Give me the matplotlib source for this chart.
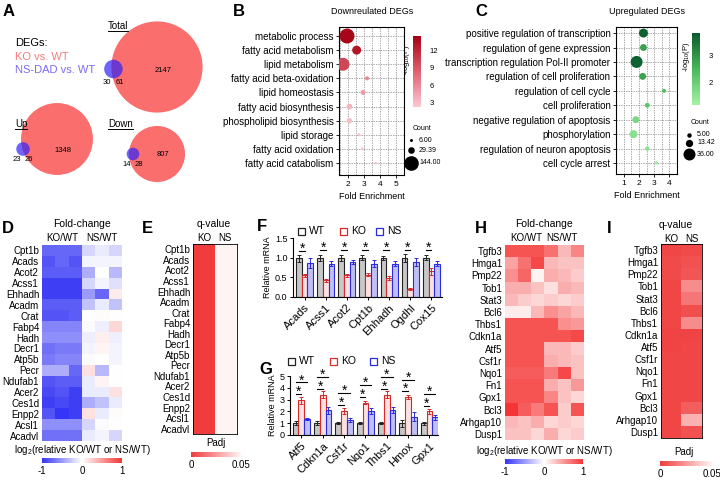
import numpy as np
import matplotlib
matplotlib.use('Agg')
import matplotlib.pyplot as plt
from matplotlib.colors import LinearSegmentedColormap, Normalize
from matplotlib.patches import Circle, Rectangle
from matplotlib.cm import ScalarMappable

plt.rcParams['font.family'] = ['Liberation Sans', 'DejaVu Sans']
plt.rcParams['mathtext.default'] = 'regular'
plt.rcParams['axes.linewidth'] = 0.8

# ---------------- data ----------------
# A: Venn counts
venn_names = ['Total', 'Up', 'Down']
ko_only = [2147, 1348, 807]
overlap = [61, 26, 28]
ns_only = [30, 23, 14]

# B: downregulated GO terms
down_terms = ['metabolic process', 'fatty acid metabolism', 'lipid metabolism',
              'fatty acid beta-oxidation', 'lipid homeostasis', 'fatty acid biosynthesis',
              'phospholipid biosynthesis', 'lipid storage', 'fatty acid oxidation',
              'fatty acid catabolism']
down_fe = [1.95, 2.55, 1.7, 3.2, 2.95, 2.1, 2.1, 2.7, 2.9, 3.75]
down_count = [150, 54, 113, 11, 17, 22, 20, 6, 6, 5]
down_logp = [14.0, 13.0, 10.0, 6.0, 5.0, 3.5, 3.0, 3.0, 2.6, 2.5]

# C: upregulated GO terms
up_terms = ['positive regulation of transcription', 'regulation of gene expression',
            'transcription regulation Pol-II promoter', 'regulation of cell proliferation',
            'regulation of cell cycle', 'cell proliferation',
            'negative regulation of apoptosis', 'phosphorylation',
            'regulation of neuron apoptosis', 'cell cycle arrest']
up_fe = [2.3, 2.3, 1.85, 2.25, 3.65, 2.55, 1.8, 1.65, 2.55, 3.15]
up_count = [20, 12, 36, 12, 4, 6, 12, 16, 5, 3]
up_logp = [3.7, 2.8, 3.7, 2.8, 2.4, 2.2, 1.8, 1.6, 1.6, 1.3]

# D / E: downregulated genes
d_genes = ['Cpt1b', 'Acads', 'Acot2', 'Acss1', 'Ehhadh', 'Acadm', 'Crat', 'Fabp4', 'Hadh',
           'Decr1', 'Atp5b', 'Pecr', 'Ndufab1', 'Acer2', 'Ces1d', 'Enpp2', 'Acsl1', 'Acadvl']
d_fc = [[-0.75, -0.75, -0.75, -0.2, -0.1, -0.2],
        [-0.85, -0.75, -0.85, -0.05, -0.05, -0.05],
        [-0.8, -0.8, -0.8, -0.4, 0.0, -0.35],
        [-0.95, -0.95, -0.95, -0.2, -0.05, -0.15],
        [-0.95, -0.95, -0.95, -0.5, -0.75, 0.1],
        [-0.8, -0.8, -0.8, -0.3, -0.1, -0.3],
        [-0.85, -0.85, -0.8, 0.0, 0.02, 0.0],
        [-0.6, -0.6, -0.6, -0.02, -0.08, 0.2],
        [-0.55, -0.55, -0.55, -0.08, 0.08, -0.08],
        [-0.7, -0.65, -0.65, -0.05, 0.05, -0.05],
        [-0.65, -0.6, -0.6, -0.02, 0.0, -0.05],
        [-0.4, -0.4, -0.75, 0.15, -0.35, 0.0],
        [-0.85, -0.8, -0.8, -0.1, 0.05, 0.0],
        [-0.9, -0.85, -0.95, -0.1, -0.1, 0.15],
        [-0.95, -0.9, -0.95, -0.4, -0.3, -0.1],
        [-0.85, -1.0, -0.95, 0.15, -0.1, 0.02],
        [-0.55, -0.55, -0.55, -0.2, -0.02, 0.0],
        [-0.7, -0.7, -0.7, -0.1, -0.05, -0.2]]
d_q_ko = [0.0] * 18
d_q_ns = [1.0] * 18

# F: qPCR downregulated
f_genes = ['Acads', 'Acss1', 'Acot2', 'Cpt1b', 'Ehhadh', 'Ogdhl', 'Cox15']
f_wt = [0.98, 1.0, 1.0, 1.0, 1.0, 1.0, 1.0]
f_ko = [0.55, 0.42, 0.55, 0.57, 0.48, 0.2, 0.65]
f_ns = [0.87, 0.85, 0.88, 0.85, 0.85, 0.88, 0.85]
f_wt_sd = [0.1, 0.08, 0.08, 0.07, 0.05, 0.1, 0.07]
f_ko_sd = [0.03, 0.04, 0.03, 0.03, 0.06, 0.02, 0.1]
f_ns_sd = [0.12, 0.07, 0.05, 0.08, 0.07, 0.1, 0.06]

# G: qPCR upregulated
g_genes = ['Atf5', 'Cdkn1a', 'Csf1r', 'Nqo1', 'Thbs1', 'Hmox', 'Gpx1']
g_wt = [1.0, 1.0, 1.0, 1.0, 1.0, 1.0, 1.0]
g_ko = [2.95, 3.4, 2.05, 2.75, 3.4, 3.2, 2.0]
g_ns = [1.35, 2.1, 1.25, 2.0, 2.1, 1.55, 1.5]
g_wt_sd = [0.15, 0.15, 0.1, 0.1, 0.1, 0.3, 0.12]
g_ko_sd = [0.3, 0.3, 0.25, 0.15, 0.3, 0.15, 0.2]
g_ns_sd = [0.1, 0.3, 0.15, 0.25, 0.25, 0.4, 0.2]

# H / I: upregulated genes
h_genes = ['Tgfb3', 'Hmga1', 'Pmp22', 'Tob1', 'Stat3', 'Bcl6', 'Thbs1', 'Cdkn1a', 'Atf5',
           'Csf1r', 'Nqo1', 'Fn1', 'Gpx1', 'Bcl3', 'Arhgap10', 'Dusp1']
h_fc = [[0.85, 0.85, 0.85, 0.7, 0.35, 0.6],
        [0.45, 0.7, 0.9, 0.35, 0.3, 0.3],
        [0.55, 0.75, 0.05, 0.4, 0.35, 0.25],
        [0.4, 0.4, 0.3, 0.15, 0.4, 0.35],
        [0.35, 0.25, 0.2, 0.25, 0.2, 0.25],
        [0.1, 0.1, 0.35, 0.55, 0.45, 0.35],
        [0.85, 0.85, 0.85, 0.85, 0.55, 0.5],
        [0.85, 0.85, 0.85, 0.85, 0.85, 0.9],
        [0.85, 0.85, 0.85, 0.35, 0.35, 0.25],
        [0.85, 0.85, 0.85, 0.4, 0.35, 0.3],
        [0.8, 0.8, 0.8, 0.65, 0.9, 0.3],
        [0.85, 0.85, 0.85, 0.4, 0.3, 0.5],
        [0.85, 0.85, 0.85, 0.6, 0.3, 0.2],
        [1.0, 0.8, 0.65, 0.85, 0.25, 0.85],
        [0.35, 0.3, 0.4, 0.2, 0.25, 0.2],
        [0.3, 0.3, 0.2, 0.4, 0.2, 0.25]]
h_q_ko = [0.003, 0.004, 0.004, 0.003, 0.003, 0.003, 0.003, 0.002, 0.002,
          0.003, 0.003, 0.003, 0.003, 0.003, 0.003, 0.003]
h_q_ns = [0.004, 0.006, 0.007, 0.022, 0.016, 0.005, 0.022, 0.002, 0.003,
          0.003, 0.003, 0.003, 0.003, 0.009, 0.032, 0.006]

# ---------------- figure ----------------
W, H = 720, 482
fig = plt.figure(figsize=(7.2, 4.82), dpi=100)
renderer = fig.canvas.get_renderer()


def box(x0, y0, x1, y1):
    return fig.add_axes([x0 / W, 1 - y1 / H, (x1 - x0) / W, (y1 - y0) / H])


# overlay axes in pixel coordinates for texts, venn and legends
ov = fig.add_axes([0, 0, 1, 1])
ov.set_xlim(0, W)
ov.set_ylim(H, 0)
ov.axis('off')

RED_V = '#fa6e6e'
BLUE_V = '#3022f8'
fc_cmap = LinearSegmentedColormap.from_list('fc', ['#3535f5', '#ffffff', '#f53535'])
q_cmap = LinearSegmentedColormap.from_list('q', ['#f03c3c', '#fff4f4'])
red_cmap = LinearSegmentedColormap.from_list('r', ['#fbc9d2', '#e0606f', '#a30012'])
grn_cmap = LinearSegmentedColormap.from_list('g', ['#a6f2a6', '#48b85a', '#0b5a2c'])

# panel letters
for s, x, y in [('A', 3, 4), ('B', 233, 4), ('C', 475, 4), ('D', 2, 221), ('E', 142, 221),
                ('F', 257, 219), ('G', 259, 362), ('H', 475, 221), ('I', 607, 221)]:
    ov.text(x, y, s, fontsize=12, fontweight='bold', va='top', ha='left')

# ---------------- A: venn ----------------
red_c = [(157, 67), (57, 139), (157, 154)]
blue_dy = [2, 10, 0]
blue_dx = [2, 2, 4]
title_xy = [(108, 26), (15, 124), (108, 124)]
for i, name in enumerate(venn_names):
    rr = 0.97 * np.sqrt(ko_only[i] + overlap[i])
    rb = 0.97 * np.sqrt(ns_only[i] + overlap[i])
    cx, cy = red_c[i]
    bx, by = cx - rr + blue_dx[i], cy + blue_dy[i]
    ov.add_patch(Circle((cx, cy), rr, color=RED_V, lw=0))
    ov.add_patch(Circle((bx, by), rb, color=BLUE_V, alpha=0.7, lw=0))
    ov.text(cx + 6, by + 1, str(ko_only[i]), fontsize=5.5, ha='center', va='center')
    ov.text(bx - 2, by + rb + 4, str(ns_only[i]), fontsize=5.5, ha='right', va='center')
    ov.text(bx + 2, by + rb + 4, str(overlap[i]), fontsize=5.5, ha='left', va='center')
    t = ov.text(title_xy[i][0], title_xy[i][1], name, fontsize=7, ha='left', va='center')
    tw = t.get_window_extent(renderer).width
    ov.plot([title_xy[i][0], title_xy[i][0] + tw], [title_xy[i][1] + 5] * 2, color='k', lw=0.7)
ov.text(15, 43, 'DEGs:', fontsize=8, va='center')
ov.text(15, 57, 'KO vs. WT', fontsize=8, va='center', color='#f47c7c')
ov.text(15, 70, 'NS-DAD vs. WT', fontsize=8, va='center', color='#7b6cf6')


# ---------------- B / C: bubble charts ----------------
def bubble(ax, terms, fe, cnt, lp, cmap, vmin, vmax, scale, ylim, xlim, xt):
    y = np.arange(len(terms))
    ax.scatter(fe, y, s=np.array(cnt) * scale, c=lp, cmap=cmap, vmin=vmin, vmax=vmax,
               zorder=3, linewidths=0)
    ax.set_yticks(y)
    ax.set_yticklabels(terms)
    ax.set_ylim(*ylim)
    ax.set_xlim(*xlim)
    ax.set_xticks(xt)
    ax.set_xticks(np.arange(xt[0] - 0.5, xt[-1] + 0.6, 0.5), minor=True)
    ax.tick_params(axis='x', which='minor', length=0)
    ax.tick_params(axis='x', labelsize=6, length=2.5, width=0.6, pad=1.5)
    ax.tick_params(axis='y', labelsize=7, length=2.5, width=0.6, pad=1.5)
    ax.grid(True, which='both', ls=(0, (2, 1.5)), lw=0.5, color='#888888')
    ax.set_xlabel('Fold Enrichment', fontsize=6.5, labelpad=3)


axB = box(339, 27, 404, 175)
bubble(axB, down_terms, down_fe, down_count, down_logp, red_cmap, 2.3, 14.4, 0.77,
       (9.85, -0.64), (1.45, 5.43), [2, 3, 4, 5])
ov.text(372, 12, 'Downreulated DEGs', fontsize=6.5, ha='center', va='center')

axC = box(616, 27, 677, 174)
bubble(axC, up_terms, up_fe, up_count, up_logp, grn_cmap, 1.2, 3.8, 2.07,
       (9.76, -0.42), (1, 4), [1, 2, 3, 4])
ov.text(647, 12, 'Upregulated DEGs', fontsize=6.5, ha='center', va='center')


def vbar(x0, y0, x1, y1, cmap, vmin, vmax, ticks, lab_x):
    cax = box(x0, y0, x1, y1)
    cb = fig.colorbar(ScalarMappable(Normalize(vmin, vmax), cmap), cax=cax)
    cb.outline.set_visible(False)
    cb.set_ticks(ticks)
    cax.tick_params(labelsize=5.5, length=0, pad=6)
    ov.text(lab_x, (y0 + y1) / 2 - 12, r'-log$_{10}$(P)', fontsize=5.5, rotation=90,
            ha='center', va='center')


vbar(413, 36, 421, 107, red_cmap, 2.3, 14.4, [3, 6, 9, 12], 407)
vbar(692, 33, 700, 105, grn_cmap, 1.2, 3.8, [2, 3], 686)


def count_legend(x, y0, ys, vals, scale):
    ov.text(x + 2, y0, 'Count', fontsize=5, va='center')
    for yy, v in zip(ys, vals):
        ov.scatter([x], [yy], s=v * scale, color='black', linewidths=0)
        ov.text(x + 8, yy, '%.2f' % v, fontsize=5, va='center')


count_legend(411, 129, [140, 150, 163], [6.00, 29.39, 144.00], 0.77)
count_legend(689, 123, [135, 143, 154], [5.00, 13.42, 36.00], 2.07)


# ---------------- heatmaps ----------------
def heat(x0, y0, x1, y1, data, cmap, vmin, vmax, genes, border):
    ax = box(x0, y0, x1, y1)
    ax.imshow(np.array(data), cmap=cmap, vmin=vmin, vmax=vmax, aspect='auto',
              interpolation='nearest')
    ax.set_yticks(np.arange(len(genes)))
    ax.set_yticklabels(genes, fontsize=7)
    ax.set_xticks([])
    ax.tick_params(length=0, pad=2)
    for sp in ax.spines.values():
        sp.set_visible(border)
        sp.set_linewidth(0.6)
    return ax


def hbar(x0, y0, x1, y1, cmap, vmin, vmax, ticks, labels):
    cax = box(x0, y0, x1, y1)
    cb = fig.colorbar(ScalarMappable(Normalize(vmin, vmax), cmap), cax=cax,
                      orientation='horizontal')
    cb.outline.set_visible(False)
    cb.set_ticks(ticks)
    cb.set_ticklabels(labels)
    cax.tick_params(labelsize=7, length=0, pad=2)


# D
heat(42, 245, 122, 441, d_fc, fc_cmap, -1, 1, d_genes, False)
ov.text(82, 224, 'Fold-change', fontsize=7.5, ha='center', va='center')
ov.text(62, 238, 'KO/WT', fontsize=7, ha='center', va='center')
ov.text(102, 238, 'NS/WT', fontsize=7, ha='center', va='center')
ov.text(82, 450, r'log$_2$(relative KO/WT or NS/WT)', fontsize=7, ha='center', va='center')
hbar(42, 458, 122, 463, fc_cmap, -1, 1, [-1, 0, 1], ['-1', '0', '1'])

# E
heat(193, 244, 237, 434, np.column_stack([d_q_ko, d_q_ns]), q_cmap, 0, 0.05, d_genes, True)
ov.text(214, 224, 'q-value', fontsize=7.5, ha='center', va='center')
ov.text(204, 238, 'KO', fontsize=7, ha='center', va='center')
ov.text(225, 238, 'NS', fontsize=7, ha='center', va='center')
ov.text(216, 443, 'Padj', fontsize=7, ha='center', va='center')
hbar(191, 452, 241, 457, q_cmap, 0, 0.05, [0, 0.05], ['0', '0.05'])

# H
heat(505, 245, 583, 440, h_fc, fc_cmap, -1, 1, h_genes, False)
ov.text(544, 224, 'Fold-change', fontsize=7.5, ha='center', va='center')
ov.text(526, 238, 'KO/WT', fontsize=7, ha='center', va='center')
ov.text(562, 238, 'NS/WT', fontsize=7, ha='center', va='center')
ov.text(544, 451, r'log$_2$(relative KO/WT or NS/WT)', fontsize=7, ha='center', va='center')
hbar(505, 459, 583, 464, fc_cmap, -1, 1, [-1, 0, 1], ['-1', '0', '1'])

# I
heat(661, 244, 702, 438, np.column_stack([h_q_ko, h_q_ns]), q_cmap, 0, 0.05, h_genes, True)
ov.text(676, 225, 'q-value', fontsize=7.5, ha='center', va='center')
ov.text(671, 239, 'KO', fontsize=7, ha='center', va='center')
ov.text(692, 239, 'NS', fontsize=7, ha='center', va='center')
ov.text(684, 452, 'Padj', fontsize=7, ha='center', va='center')
hbar(660, 461, 712, 466, q_cmap, 0, 0.05, [0, 0.05], ['0', '0.05'])


# ---------------- F / G: bar charts ----------------
EDGE = ['#222222', '#d42a2a', '#2a2ae0']
FILL = ['#c8c8c8', '#fbe2e2', '#c0c0f4']
OFF = 0.27


def star(ax, x, y):
    ax.annotate('*', xy=(x, y), xytext=(0, -3.5), textcoords='offset points',
                fontsize=10, ha='center', va='bottom', annotation_clip=False)


def bars(ax, genes, means, sds, ylim, yt, xlim, stars2):
    x = np.arange(len(genes))
    for k in range(3):
        ax.bar(x + (k - 1) * OFF, means[k], width=OFF, color=FILL[k], edgecolor=EDGE[k],
               lw=0.8, yerr=sds[k],
               error_kw=dict(ecolor=EDGE[k], elinewidth=0.7, capsize=1.2, capthick=0.7))
    for i in range(len(genes)):
        top = max(means[0][i], means[1][i])
        if stars2:
            ly = means[1][i] + 0.5
            ax.plot([x[i] - OFF, x[i]], [ly, ly], color='k', lw=0.8, clip_on=False)
            star(ax, x[i] - 0.12, ly)
            uy = means[1][i] + 1.5
            ax.plot([x[i] - OFF, x[i] + OFF], [uy, uy], color='k', lw=0.8, clip_on=False)
            star(ax, x[i], uy)
        else:
            ly = top + 0.2
            ax.plot([x[i] - OFF, x[i]], [ly, ly], color='k', lw=0.8, clip_on=False)
            star(ax, x[i] - 0.12, ly)
    ax.set_xlim(*xlim)
    ax.set_ylim(*ylim)
    ax.set_yticks(yt)
    ax.set_xticks(x)
    ax.set_xticklabels(genes, rotation=45, ha='right', rotation_mode='anchor')
    ax.tick_params(labelsize=6.5, length=2.5, width=0.7, pad=1.5)
    ax.tick_params(axis='x', labelsize=8)
    ax.spines['top'].set_visible(False)
    ax.spines['right'].set_visible(False)
    ax.set_ylabel('Relative mRNA', fontsize=6.5, labelpad=2)


axF = box(293, 238, 442, 297)
bars(axF, f_genes, [f_wt, f_ko, f_ns], [f_wt_sd, f_ko_sd, f_ns_sd], (0, 1.5),
     [0, 0.5, 1.0, 1.5], (-0.55, 6.5), False)
axF.set_yticklabels(['0.0', '0.5', '1.0', '1.5'])

axG = box(290, 376, 438, 435)
bars(axG, g_genes, [g_wt, g_ko, g_ns], [g_wt_sd, g_ko_sd, g_ns_sd], (0, 5),
     [0, 1, 2, 3, 4, 5], (-0.53, 6.4), True)


def bar_legend(xs, y):
    for k, lab in enumerate(['WT', 'KO', 'NS']):
        ov.add_patch(Rectangle((xs[k], y - 3.5), 7, 7, fill=False, edgecolor=EDGE[k], lw=0.9))
        ov.text(xs[k] + 11, y, lab, fontsize=7.5, va='center')


bar_legend([298, 340, 376], 231)
bar_legend([288, 330, 370], 361)

fig.savefig('out.png', dpi=100)
